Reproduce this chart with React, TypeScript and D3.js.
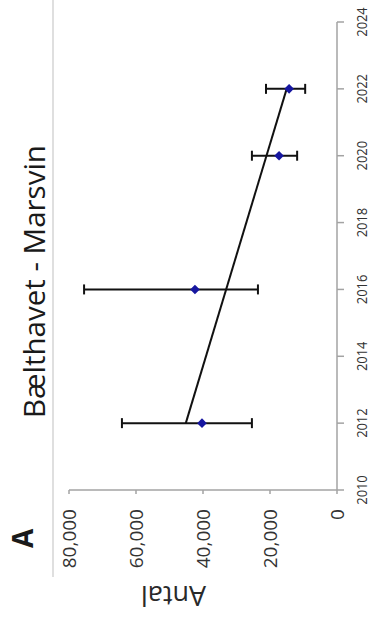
import React from "react";
import * as d3 from "d3";

const years: number[] = [2012, 2016, 2020, 2022];
const counts: number[] = [40300, 42400, 17300, 14300];
const lowerBounds: number[] = [25400, 23600, 11900, 9500];
const upperBounds: number[] = [64200, 75500, 25400, 21200];
const yearTicks: number[] = [2010, 2012, 2014, 2016, 2018, 2020, 2022, 2024];
const countTicks: number[] = [0, 20000, 40000, 60000, 80000];
const titleText = "Bælthavet - Marsvin";
const panelLabel = "A";
const yAxisLabel = "Antal";

const W = 625; // local (unrotated) width
const FONT = "'Open Sans', 'Liberation Sans', sans-serif";

export default function App() {
  const x = d3.scaleLinear().domain([2010, 2024]).range([135, 603]);
  const y = d3.scaleLinear().domain([0, 80000]).range([337, 69]);

  // linear trend (least squares)
  const mx = d3.mean(years)!;
  const my = d3.mean(counts)!;
  const sxy = d3.sum(years.map((v, i) => (v - mx) * (counts[i] - my)));
  const sxx = d3.sum(years.map((v) => (v - mx) ** 2));
  const slope = sxy / sxx;
  const icpt = my - slope * mx;
  const [x0, x1] = d3.extent(years) as [number, number];
  const trend = d3.line<number>().x((d) => x(d)).y((d) => y(icpt + slope * d))([x0, x1]);

  const diamond = d3.symbol(d3.symbolSquare, 46)();
  const axisColor = "#a3a3a3";
  const labelColor = "#333";
  const cap = 5;

  return (
    <svg width={372} height={625} style={{ position: "absolute", left: 0, top: 0, background: "#fff" }}>
      <g transform={`translate(0,${W}) rotate(-90)`}>
        {/* faint separator line */}
        <line x1={48} x2={W} y1={53} y2={53} stroke="#d4d4d4" strokeWidth={1.5} />

        {/* title and panel label */}
        <text x={343.5} y={45} textAnchor="middle" fontFamily={FONT} fontSize={29.5} fill="#1a1a1a">
          {titleText}
        </text>
        <text x={77} y={33} fontFamily={FONT} fontSize={28} fontWeight="bold" fill="#1a1a1a">
          {panelLabel}
        </text>

        {/* axis title */}
        <text
          transform={`translate(39,173.5) rotate(-90)`}
          textAnchor="middle"
          fontFamily={FONT}
          fontSize={27}
          fill="#2a2a2a"
        >
          {yAxisLabel}
        </text>

        {/* y axis (counts) */}
        <line x1={x.range()[0]} x2={x.range()[0]} y1={y(0)} y2={y(80000)} stroke={axisColor} strokeWidth={1.5} />
        {countTicks.map((t) => (
          <g key={t}>
            <line x1={x.range()[0] - 4} x2={x.range()[0]} y1={y(t)} y2={y(t)} stroke={axisColor} strokeWidth={1.5} />
            <text
              x={116}
              y={y(t)}
              textAnchor="end"
              dominantBaseline="central"
              fontFamily={FONT}
              fontSize={19}
              fill={labelColor}
            >
              {d3.format(",")(t)}
            </text>
          </g>
        ))}

        {/* x axis (years) */}
        <line x1={x(2010)} x2={x(2024)} y1={y(0)} y2={y(0)} stroke={axisColor} strokeWidth={1.5} />
        {yearTicks.map((t) => (
          <g key={t}>
            <line x1={x(t)} x2={x(t)} y1={y(0)} y2={y(0) + 7} stroke={axisColor} strokeWidth={1.5} />
            <text
              transform={`translate(${x(t)},${y(0) + 19}) scale(0.86,1)`}
              textAnchor="middle"
              dy="0.71em"
              fontFamily={FONT}
              fontSize={15}
              fill={labelColor}
            >
              {t}
            </text>
          </g>
        ))}

        {/* trend line */}
        <path d={trend ?? ""} fill="none" stroke="#111" strokeWidth={2} />

        {/* error bars */}
        {years.map((yr, i) => (
          <g key={yr} stroke="#111" strokeWidth={2}>
            <line x1={x(yr)} x2={x(yr)} y1={y(lowerBounds[i])} y2={y(upperBounds[i])} />
            <line x1={x(yr) - cap} x2={x(yr) + cap} y1={y(lowerBounds[i])} y2={y(lowerBounds[i])} />
            <line x1={x(yr) - cap} x2={x(yr) + cap} y1={y(upperBounds[i])} y2={y(upperBounds[i])} />
          </g>
        ))}

        {/* markers */}
        {years.map((yr, i) => (
          <path
            key={yr}
            d={diamond ?? ""}
            transform={`translate(${x(yr)},${y(counts[i])}) rotate(45)`}
            fill="#1616a0"
          />
        ))}
      </g>
    </svg>
  );
}
